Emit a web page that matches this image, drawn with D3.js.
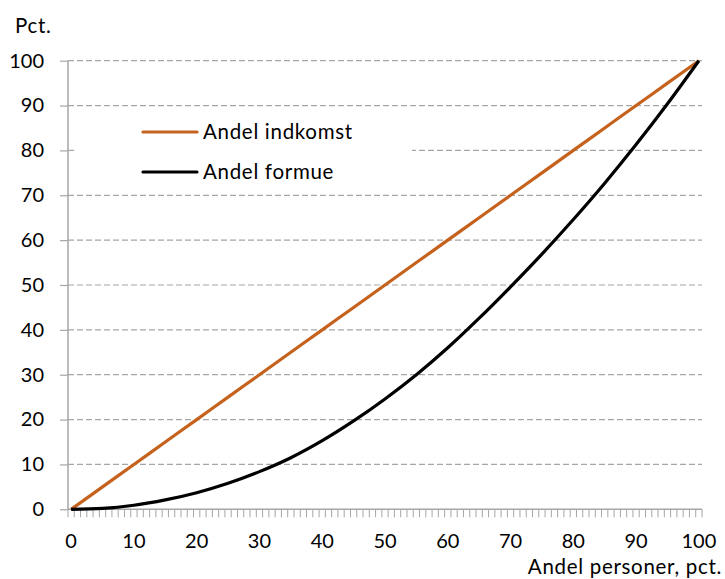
<!DOCTYPE html>
<html>
<head>
<meta charset="utf-8">
<script src="https://cdn.jsdelivr.net/npm/d3@7"></script>
<style>
  html, body { margin: 0; padding: 0; background: #fff; }
  svg { display: block; }
  text { font-family: Lato, "Open Sans", sans-serif; fill: #000; }
</style>
</head>
<body>
<svg id="chart" width="725" height="579"></svg>
<script>
// ---- data ----
const xValues = [0, 5, 10, 15, 20, 25, 30, 35, 40, 45, 50, 55, 60, 65, 70, 75, 80, 85, 90, 95, 100];
const incomeShare = [0, 5, 10, 15, 20, 25, 30, 35, 40, 45, 50, 55, 60, 65, 70, 75, 80, 85, 90, 95, 100];
const wealthShare = [0, 0.2, 0.9, 2.1, 3.7, 5.8, 8.4, 11.5, 15.3, 19.7, 24.6, 30.0, 36.0, 42.6, 49.6, 56.9, 64.6, 72.7, 81.3, 90.4, 100];
const yTicks = [0, 10, 20, 30, 40, 50, 60, 70, 80, 90, 100];
const xTickLabels = [0, 10, 20, 30, 40, 50, 60, 70, 80, 90, 100];
const seriesNames = ["Andel indkomst", "Andel formue"];
const seriesColors = ["#C5621E", "#000000"];

// ---- layout ----
const svg = d3.select("#chart");
const plotL = 68, plotR = 702, plotT = 60.7, plotB = 509.3;
const numSize = 20, wordSize = 20.5, wordSpacing = 0.7;

// category axis with 101 categories (0..100): centers at i, boundaries at i±0.5
const x = d3.scaleLinear().domain([-0.5, 100.5]).range([plotL, plotR]);
const y = d3.scaleLinear().domain([0, 100]).range([plotB, plotT]);

const gridColor = "#A6A6A6";

// gridlines
svg.append("g").selectAll("line")
  .data(yTicks.filter(d => d > 0))
  .join("line")
  .attr("x1", plotL).attr("x2", plotR)
  .attr("y1", d => y(d)).attr("y2", d => y(d))
  .attr("stroke", gridColor).attr("stroke-width", 1.2)
  .attr("stroke-dasharray", "6,3");

// y axis
const yAxis = d3.axisLeft(y).tickValues(yTicks).tickSize(8).tickPadding(16).tickFormat(d3.format("d"));
const gy = svg.append("g").attr("transform", `translate(${plotL},0)`).call(yAxis);
gy.select(".domain").attr("stroke", gridColor).attr("stroke-width", 1.5).attr("d", `M0,${plotT}V${plotB}`);
gy.selectAll(".tick line").attr("stroke", gridColor).attr("stroke-width", 1.2);
gy.selectAll(".tick text").attr("font-size", numSize).attr("font-family", null).attr("fill", "#000");

// x axis: minor ticks at category boundaries
const boundaries = d3.range(-0.5, 101, 1);
const gx = svg.append("g");
gx.append("line").attr("x1", plotL).attr("x2", plotR).attr("y1", plotB).attr("y2", plotB)
  .attr("stroke", gridColor).attr("stroke-width", 1.5);
gx.selectAll("line.tk").data(boundaries).join("line").attr("class", "tk")
  .attr("x1", d => x(d)).attr("x2", d => x(d))
  .attr("y1", plotB).attr("y2", plotB + 8)
  .attr("stroke", gridColor).attr("stroke-width", 1);
gx.selectAll("text").data(xTickLabels).join("text")
  .attr("x", d => x(d)).attr("y", 548)
  .attr("text-anchor", "middle").attr("font-size", numSize)
  .text(d => d);

// axis titles
svg.append("text").attr("x", 15).attr("y", 33).attr("font-size", wordSize)
  .attr("letter-spacing", wordSpacing).text("Pct.");
svg.append("text").attr("x", 722).attr("y", 574).attr("text-anchor", "end").attr("font-size", wordSize)
  .attr("letter-spacing", wordSpacing).text("Andel personer, pct.");

// lines
const line = d3.line().x((d, i) => x(xValues[i])).y(d => y(d)).curve(d3.curveMonotoneX);
[incomeShare, wealthShare].forEach((s, k) => {
  svg.append("path").datum(s).attr("d", line)
    .attr("fill", "none").attr("stroke", seriesColors[k]).attr("stroke-width", 3.2)
    .attr("stroke-linejoin", "round");
});

// legend
const lg = svg.append("g");
lg.append("rect").attr("x", 77).attr("y", 113).attr("width", 335).attr("height", 78).attr("fill", "#fff");
seriesNames.forEach((n, i) => {
  const yy = 132 + i * 40;
  lg.append("line").attr("x1", 143).attr("x2", 197).attr("y1", yy).attr("y2", yy)
    .attr("stroke", seriesColors[i]).attr("stroke-width", 3.2).attr("stroke-linecap", "round");
  lg.append("text").attr("x", 203).attr("y", yy + 7).attr("font-size", wordSize)
    .attr("letter-spacing", wordSpacing).text(n);
});
</script>
</body>
</html>
